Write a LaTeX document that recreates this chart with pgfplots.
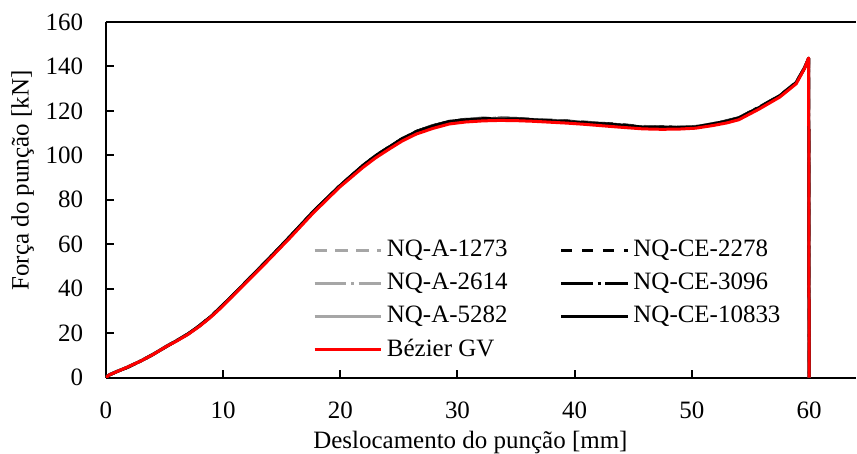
\documentclass[border=0pt]{standalone}
\usepackage{fontspec}
\setmainfont{Liberation Serif}
\usepackage{pgfplots}
\pgfplotsset{compat=1.18}
\usepackage{pgfplotstable}
\definecolor{lgray}{RGB}{166,166,166}
\definecolor{bred}{RGB}{255,0,0}

\pgfplotstableread{
x y
0 0
0.3 1.3
1.0 2.9
1.8 4.6
3.0 7.6
4.0 10.4
5.2 14.2
6.0 16.5
7.0 19.6
8.0 23.3
9.0 27.6
9.7 31.1
10.7 36.3
11.7 41.6
13.7 52.2
15.7 63.2
17.7 74.5
20.0 86.3
21.9 95.0
23.0 99.5
24.2 103.7
25.3 107.4
26.5 110.6
27.9 113.1
29.3 115.2
30.7 116.0
32.2 116.9
33.6 116.3
35.0 116.6
36.5 115.9
37.9 116.0
39.3 115.1
40.7 115.1
42.1 114.4
44.0 113.6
45.8 113.0
47.4 112.8
48.9 112.6
50.3 113.0
51.8 114.2
53.0 115.3
54.0 116.6
55.7 121.3
57.5 126.7
58.9 132.7
59.6 139.3
59.96 143.6
60.0 0
}\seriesAa
\pgfplotstableread{
x y
0 0
0.3 1.2
1.0 2.8
1.8 4.5
3.0 7.5
4.0 10.3
5.2 14.1
6.0 16.5
7.0 19.6
8.0 23.4
9.0 27.7
9.7 31.2
10.7 36.4
11.7 41.7
13.7 52.3
15.7 63.3
17.7 74.6
20.0 86.5
21.9 95.2
23.0 99.8
24.2 103.9
25.3 107.5
26.5 110.8
27.9 113.3
29.3 115.2
30.7 116.1
32.2 116.5
33.6 116.7
35.0 116.5
36.5 116.2
37.9 115.6
39.3 115.3
40.7 114.9
42.1 114.5
44.0 113.8
45.8 112.9
47.4 112.6
48.9 112.5
50.3 112.9
51.8 114.1
53.0 115.4
54.0 116.8
55.7 121.5
57.5 126.9
58.9 132.8
59.6 139.1
59.96 143.5
60.0 0
}\seriesCEa
\pgfplotstableread{
x y
0 0
0.3 1.3
1.0 2.8
1.8 4.6
3.0 7.6
4.0 10.3
5.2 14.2
6.0 16.4
7.0 19.5
8.0 23.2
9.0 27.5
9.7 31.0
10.7 36.2
11.7 41.6
13.7 52.3
15.7 63.2
17.7 74.5
20.0 86.4
21.9 95.1
23.0 99.6
24.2 103.7
25.3 107.3
26.5 110.6
27.9 113.0
29.3 115.1
30.7 115.8
32.2 116.8
33.6 116.2
35.0 116.4
36.5 116.0
37.9 115.7
39.3 115.4
40.7 115.0
42.1 114.3
44.0 113.5
45.8 112.8
47.4 112.9
48.9 112.6
50.3 112.8
51.8 114.3
53.0 115.5
54.0 116.7
55.7 121.4
57.5 126.8
58.9 132.6
59.6 139.2
59.96 143.4
60.0 0
}\seriesAb
\pgfplotstableread{
x y
0 0
0.3 1.2
1.0 2.9
1.8 4.5
3.0 7.5
4.0 10.4
5.2 14.1
6.0 16.5
7.0 19.6
8.0 23.3
9.0 27.6
9.7 31.1
10.7 36.3
11.7 41.7
13.7 52.4
15.7 63.4
17.7 74.7
20.0 86.5
21.9 95.2
23.0 99.7
24.2 103.8
25.3 107.6
26.5 110.7
27.9 113.4
29.3 115.0
30.7 116.2
32.2 116.3
33.6 116.8
35.0 116.6
36.5 115.8
37.9 115.6
39.3 115.5
40.7 114.7
42.1 114.4
44.0 113.7
45.8 112.5
47.4 112.9
48.9 112.7
50.3 112.7
51.8 114.0
53.0 115.6
54.0 116.9
55.7 121.6
57.5 126.8
58.9 132.9
59.6 139.3
59.96 143.7
60.0 0
}\seriesCEb
\pgfplotstableread{
x y
0 0
0.3 1.3
1.0 2.9
1.8 4.6
3.0 7.6
4.0 10.3
5.2 14.2
6.0 16.5
7.0 19.5
8.0 23.3
9.0 27.6
9.7 31.1
10.7 36.2
11.7 41.5
13.7 52.2
15.7 63.2
17.7 74.5
20.0 86.3
21.9 95.0
23.0 99.5
24.2 103.6
25.3 107.3
26.5 110.5
27.9 113.2
29.3 115.1
30.7 116.0
32.2 116.5
33.6 116.5
35.0 116.4
36.5 116.1
37.9 115.9
39.3 115.2
40.7 114.9
42.1 114.2
44.0 113.6
45.8 112.6
47.4 112.7
48.9 112.6
50.3 112.9
51.8 114.2
53.0 115.4
54.0 116.7
55.7 121.3
57.5 126.7
58.9 132.7
59.6 139.2
59.96 143.6
60.0 0
}\seriesAc
\pgfplotstableread{
x y
0 0
0.3 1.2
1.0 2.8
1.8 4.5
3.0 7.5
4.0 10.3
5.2 14.1
6.0 16.5
7.0 19.6
8.0 23.4
9.0 27.7
9.7 31.2
10.7 36.4
11.7 41.7
13.7 52.4
15.7 63.4
17.7 74.8
20.0 86.5
21.9 95.3
23.0 99.8
24.2 103.8
25.3 107.5
26.5 110.7
27.9 113.2
29.3 115.3
30.7 116.0
32.2 116.5
33.6 116.4
35.0 116.4
36.5 116.0
37.9 115.6
39.3 115.2
40.7 114.8
42.1 114.3
44.0 113.6
45.8 112.7
47.4 112.6
48.9 112.5
50.3 112.8
51.8 114.2
53.0 115.4
54.0 116.8
55.7 121.4
57.5 126.8
58.9 132.8
59.6 139.2
59.96 143.6
60.0 0
}\seriesCEc
\pgfplotstableread{
x y
0 0
0.3 1.2
1.0 2.8
1.76 4.5
3.0 7.5
4.0 10.3
5.17 14.0
6.0 16.3
7.0 19.4
8.0 23.1
9.0 27.4
9.72 30.9
10.7 36.0
11.7 41.3
13.7 51.9
15.7 62.8
17.7 74.1
19.95 85.7
21.9 94.4
23.0 98.8
24.2 102.9
25.3 106.5
26.5 109.6
27.9 112.1
29.3 114.1
30.7 115.0
32.2 115.5
33.6 115.7
35.0 115.6
36.5 115.3
37.9 114.9
39.3 114.5
40.7 114.0
42.1 113.4
44.0 112.6
45.8 111.9
47.4 111.7
48.9 111.8
50.3 112.2
51.8 113.4
53.0 114.6
54.0 116.0
55.7 120.7
57.5 126.2
58.9 132.2
59.6 139.0
59.96 143.8
60.0 0
}\seriesBez

\begin{document}
\fontsize{12.5}{15}\selectfont
\begin{tikzpicture}
\useasboundingbox (-53pt,-38pt) rectangle (376pt,189pt);
\begin{axis}[
  scale only axis,
  width=375.5pt, height=178pt,
  xmin=0, xmax=64, ymin=0, ymax=160,
  xtick={0,10,...,60}, ytick={0,20,...,160},
  axis x line=box, axis y line=left,
  xtick pos=bottom, ytick pos=left,
  tick align=inside,
  major tick length=4pt,
  axis line style={line width=1pt, black, -},
  every tick/.style={black, line width=1pt},
  /pgf/number format/assume math mode=true,
  tick label style={font=\fontsize{12.5}{15}\selectfont},
  label style={font=\fontsize{12.5}{15}\selectfont},
  yticklabel style={xshift=-7pt},
  xticklabel style={yshift=-8pt},
  xlabel={Deslocamento do punção [mm]},
  ylabel={Força do punção [kN]},
  xlabel style={at={(axis description cs:0.486,0)}, anchor=base, yshift=-35.5pt},
  ylabel style={at={(axis description cs:-0.111,0.554)}, anchor=center, rotate=0},
  legend columns=2,
  legend cell align=left,
  legend style={at={(axis description cs:0.2756,0.399)}, anchor=north west,
    draw=none, fill=none, inner sep=0pt,
    font=\fontsize{12.5}{15}\selectfont,
    /tikz/every even column/.append style={column sep=24pt},
    row sep=2.3pt},
  legend image code/.code={\draw[#1] (0pt,0pt) -- (33.5pt,0pt);},
  every axis plot/.append style={line width=1.5pt, line join=round},
]
\addplot[lgray, dash pattern=on 6.5pt off 4pt] table {\seriesAa};
\addlegendentry{NQ-A-1273}
\addplot[black, dash pattern=on 5.5pt off 5pt] table {\seriesCEa};
\addlegendentry{NQ-CE-2278}
\addplot[lgray, dash pattern=on 16pt off 2.3pt on 1.5pt off 2.3pt] table {\seriesAb};
\addlegendentry{NQ-A-2614}
\addplot[black, dash pattern=on 16pt off 2.3pt on 1.5pt off 2.3pt] table {\seriesCEb};
\addlegendentry{NQ-CE-3096}
\addplot[lgray] table {\seriesAc};
\addlegendentry{NQ-A-5282}
\addplot[black] table {\seriesCEc};
\addlegendentry{NQ-CE-10833}
\addplot[bred] table {\seriesBez};
\addlegendentry{Bézier GV}
\end{axis}
\end{tikzpicture}
\end{document}
